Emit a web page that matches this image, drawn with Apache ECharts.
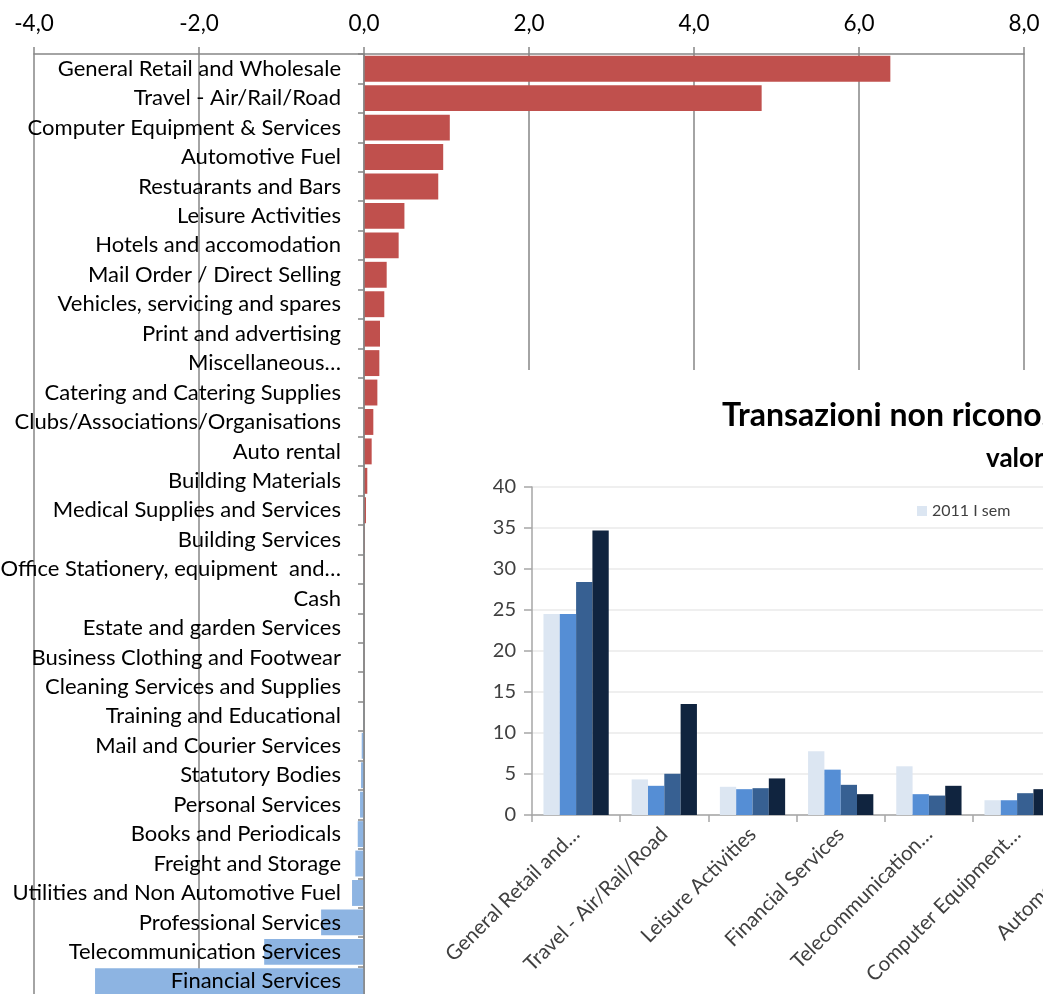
<!DOCTYPE html>
<html>
<head>
<meta charset="utf-8">
<script src="https://cdn.jsdelivr.net/npm/echarts@6/dist/echarts.min.js"></script>
<style>
  html, body { margin: 0; padding: 0; background: #fff; overflow: hidden; width: 1043px; height: 994px; }
  #main { position: absolute; left: 0; top: 0; width: 1043px; height: 994px; }
  #inset { position: absolute; left: 400px; top: 370px; width: 1400px; height: 624px; background: #fff; }
</style>
</head>
<body>
<div id="main"></div>
<div id="inset"></div>
<script>
// ---- Main chart data (difference by merchant category) ----
const categories = [
  'General Retail and Wholesale', 'Travel - Air/Rail/Road', 'Computer Equipment & Services',
  'Automotive Fuel', 'Restuarants and Bars', 'Leisure Activities', 'Hotels and accomodation',
  'Mail Order / Direct Selling', 'Vehicles, servicing and spares', 'Print and advertising',
  'Miscellaneous…', 'Catering and Catering Supplies', 'Clubs/Associations/Organisations',
  'Auto rental', 'Building Materials', 'Medical Supplies and Services', 'Building Services',
  'Office Stationery, equipment  and…', 'Cash', 'Estate and garden Services',
  'Business Clothing and Footwear', 'Cleaning Services and Supplies', 'Training and Educational',
  'Mail and Courier Services', 'Statutory Bodies', 'Personal Services', 'Books and Periodicals',
  'Freight and Storage', 'Utilities and Non Automotive Fuel', 'Professional Services',
  'Telecommunication Services', 'Financial Services'
];
const values = [
  6.38, 4.82, 1.04, 0.96, 0.90, 0.49, 0.42, 0.275, 0.246, 0.194,
  0.186, 0.162, 0.113, 0.093, 0.04, 0.024, 0.006, 0.004, 0.002, 0.001,
  0.001, 0.001, -0.003, -0.028, -0.036, -0.048, -0.076, -0.105, -0.145, -0.52,
  -1.21, -3.26
];

// ---- Inset chart data ----
const insetCategories = [
  'General Retail and…', 'Travel - Air/Rail/Road', 'Leisure Activities',
  'Financial Services', 'Telecommunication…', 'Computer Equipment…',
  'Automotive Fuel'
];
const insetSeriesNames = ['2011 I sem', '2011 II sem', '2012 I sem', '2012 II sem'];
const s2011I  = [24.5, 4.34, 3.44, 7.78, 5.94, 1.80, 2.1];
const s2011II = [24.5, 3.56, 3.15, 5.53, 2.54, 1.80, 1.9];
const s2012I  = [28.4, 5.03, 3.27, 3.68, 2.37, 2.66, 2.5];
const s2012II = [34.7, 13.55, 4.46, 2.54, 3.56, 3.15, 3.0];

const FONT = 'Lato';
const POS = '#C0504D', NEG = '#8DB4E2';
const axisGray = '#868686';

const main = echarts.init(document.getElementById('main'));
main.setOption({
  animation: false,
  grid: { left: 34, right: 19, top: 54, height: 942, outerBoundsMode: 'none', containLabel: false },
  xAxis: {
    type: 'value', position: 'top', min: -4, max: 8, interval: 2,
    axisLine: { show: true, lineStyle: { color: axisGray, width: 1.5 } },
    axisTick: { show: true, length: 7, lineStyle: { color: axisGray, width: 1.5 } },
    axisLabel: {
      fontSize: 22.5, color: '#000', fontFamily: FONT, margin: 19,
      formatter: v => v.toFixed(1).replace('.', ',')
    },
    splitLine: { show: true, lineStyle: { color: axisGray, width: 1.5 } }
  },
  yAxis: {
    type: 'category', data: categories, inverse: true, z: 5,
    axisLine: { show: true, onZero: true, lineStyle: { color: axisGray, width: 1.5 } },
    axisTick: { show: true, length: 6, lineStyle: { color: axisGray, width: 1.5 } },
    axisLabel: { fontSize: 22, color: '#000', fontFamily: FONT, margin: -307, interval: 0 },
    splitLine: { show: false }
  },
  series: [{
    type: 'bar', data: values, barCategoryGap: '12%',
    itemStyle: { color: p => (p.value < 0 ? NEG : POS) }
  }]
});

const colors = ['#DCE6F2', '#558ED5', '#376092', '#10243F'];
const insetData = [s2011I, s2011II, s2012I, s2012II];
const inset = echarts.init(document.getElementById('inset'));
inset.setOption({
  animation: false,
  color: colors,
  title: [
    { text: 'Transazioni non riconosciute per settore merceologico', left: 317, top: 25,
      textStyle: { fontSize: 32, fontWeight: 'bold', color: '#000', fontFamily: FONT } },
    { text: 'valori %', left: 581, top: 71,
      textStyle: { fontSize: 26, fontWeight: 'bold', color: '#000', fontFamily: FONT } }
  ],
  legend: {
    data: insetSeriesNames, left: 512, top: 128, icon: 'rect', itemWidth: 10, itemHeight: 10,
    itemGap: 40, textStyle: { fontSize: 16, color: '#404040', fontFamily: FONT }
  },
  grid: { left: 132, top: 117, width: 617.4, height: 328, outerBoundsMode: 'none', containLabel: false },
  xAxis: {
    type: 'category', data: insetCategories,
    axisLine: { lineStyle: { color: '#A6A6A6', width: 1.5 } },
    axisTick: { show: true, length: 7, lineStyle: { color: '#A6A6A6', width: 1.5 } },
    axisLabel: { interval: 0, rotate: 45, fontSize: 20.5, color: '#404040', fontFamily: FONT, margin: 16 }
  },
  yAxis: {
    type: 'value', min: 0, max: 40, interval: 5,
    axisLine: { show: true, lineStyle: { color: '#A6A6A6', width: 1.5 } },
    axisTick: { show: true, length: 8, lineStyle: { color: '#A6A6A6', width: 1.5 } },
    axisLabel: { fontSize: 20, color: '#404040', fontFamily: FONT, margin: 16 },
    splitLine: { lineStyle: { color: '#EAEAEA', width: 1.5 } }
  },
  series: insetData.map((d, i) => ({
    name: insetSeriesNames[i], type: 'bar', data: d,
    barGap: '0%', barCategoryGap: '26%'
  }))
});
</script>
</body>
</html>
